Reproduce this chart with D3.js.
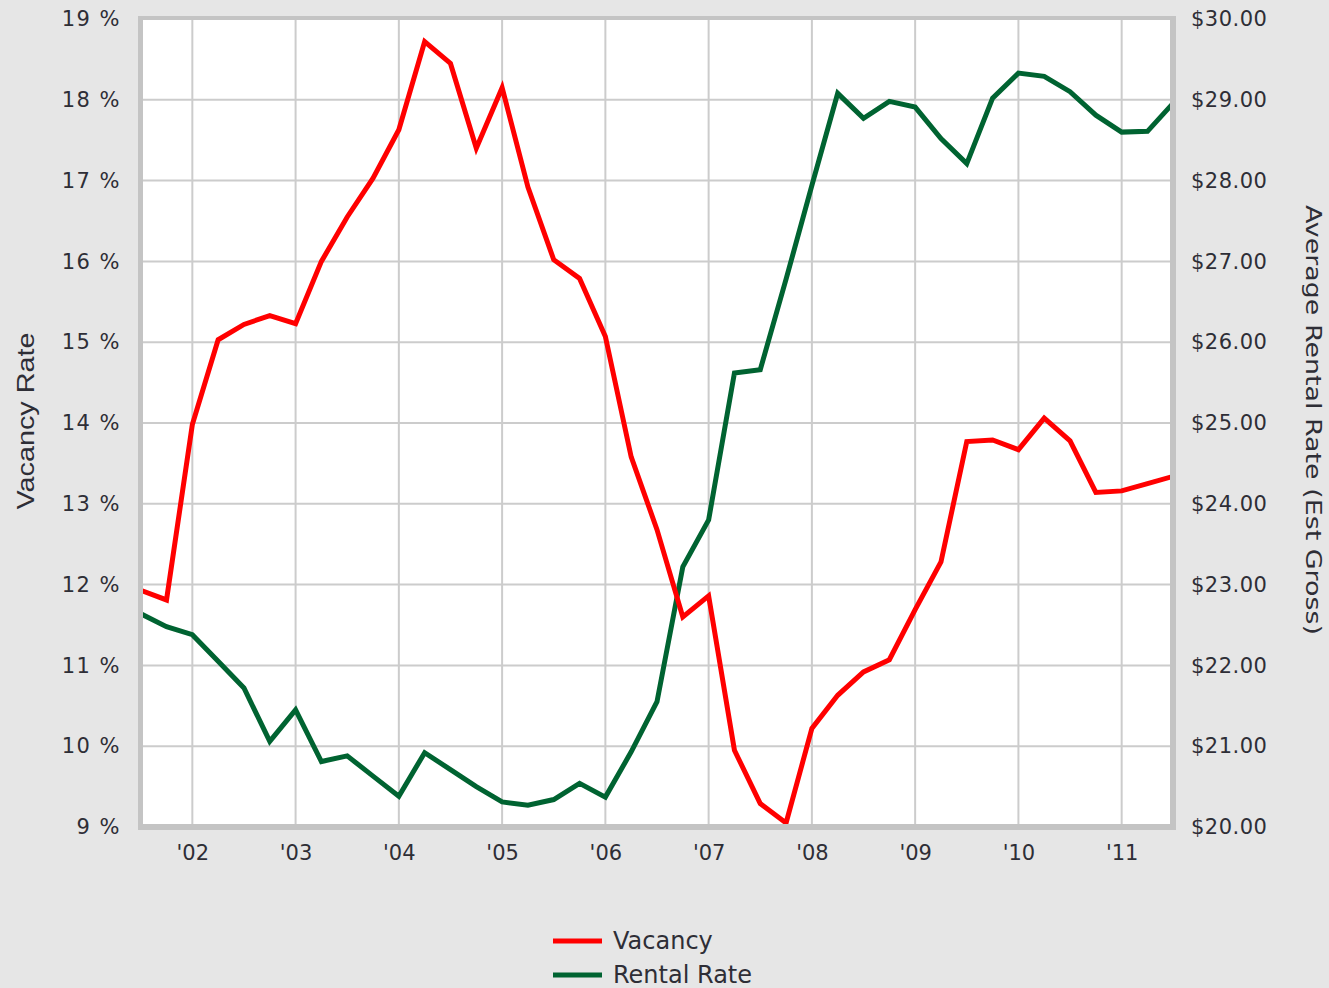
<!DOCTYPE html>
<html><head><meta charset="utf-8">
<script src="https://cdn.jsdelivr.net/npm/d3@7"></script>
<style>html,body{margin:0;padding:0;background:#e6e6e6;}svg{display:block;}</style>
</head><body>
<svg id="chart" width="1329" height="988"></svg>
<script>
const quarters = [2001.5,2001.75,2002,2002.25,2002.5,2002.75,2003,2003.25,2003.5,2003.75,2004,2004.25,2004.5,2004.75,2005,2005.25,2005.5,2005.75,2006,2006.25,2006.5,2006.75,2007,2007.25,2007.5,2007.75,2008,2008.25,2008.5,2008.75,2009,2009.25,2009.5,2009.75,2010,2010.25,2010.5,2010.75,2011,2011.25,2011.5];
const vacancy = [11.93,11.81,13.98,15.03,15.22,15.33,15.23,16.0,16.55,17.03,17.63,18.72,18.45,17.40,18.15,16.92,16.02,15.79,15.07,13.58,12.68,11.60,11.86,9.95,9.29,9.05,10.22,10.63,10.92,11.07,11.69,12.28,13.77,13.79,13.67,14.06,13.78,13.14,13.16,13.25,13.34];
const rental = [22.64,22.48,22.38,22.05,21.72,21.06,21.45,20.81,20.88,20.63,20.38,20.92,20.71,20.50,20.31,20.27,20.34,20.54,20.37,20.93,21.55,23.22,23.80,25.62,25.66,26.78,27.94,29.08,28.77,28.98,28.91,28.52,28.21,29.02,29.33,29.29,29.10,28.81,28.60,28.61,28.96];
const yearTicks = [2002,2003,2004,2005,2006,2007,2008,2009,2010,2011];
const yearLabels = ["'02","'03","'04","'05","'06","'07","'08","'09","'10","'11"];
const vacancyTicks = [9,10,11,12,13,14,15,16,17,18,19];
const rentalTicks = [20,21,22,23,24,25,26,27,28,29,30];
const seriesNames = ["Vacancy","Rental Rate"];
const seriesColors = ["#ff0000","#006331"];

const svg = d3.select("#chart");
const x = d3.scaleLinear().domain([2001.5, 2011.5]).range([140.7, 1173.3]);
const yL = d3.scaleLinear().domain([9, 19]).range([827, 19]);
const yR = d3.scaleLinear().domain([20, 30]).range([827, 19]);

const font = "DejaVu Sans, Verdana, sans-serif";
const txtColor = "#2e2e36";

// frame
svg.append("rect").attr("x",138).attr("y",16).attr("width",1038).attr("height",814).attr("fill","#c4c4c4");
svg.append("rect").attr("x",143).attr("y",20).attr("width",1027).attr("height",804).attr("fill","#ffffff");

svg.append("clipPath").attr("id","clip").append("rect").attr("x",143).attr("y",20).attr("width",1027).attr("height",804);
const plot = svg.append("g").attr("clip-path","url(#clip)");

// grid
plot.selectAll("line.hg").data(vacancyTicks).join("line")
  .attr("x1",143).attr("x2",1170).attr("y1",d=>yL(d)).attr("y2",d=>yL(d))
  .attr("stroke","#cccccc").attr("stroke-width",2);
plot.selectAll("line.vg").data(yearTicks).join("line")
  .attr("y1",20).attr("y2",824).attr("x1",d=>x(d)).attr("x2",d=>x(d))
  .attr("stroke","#cccccc").attr("stroke-width",2);

// lines
const lineV = d3.line().x((d,i)=>x(quarters[i])).y(d=>yL(d));
const lineR = d3.line().x((d,i)=>x(quarters[i])).y(d=>yR(d));
plot.append("path").datum(rental).attr("d",lineR).attr("fill","none")
  .attr("stroke",seriesColors[1]).attr("stroke-width",5).attr("stroke-linejoin","miter");
plot.append("path").datum(vacancy).attr("d",lineV).attr("fill","none")
  .attr("stroke",seriesColors[0]).attr("stroke-width",5).attr("stroke-linejoin","miter");

// left axis
const axL = d3.axisLeft(yL).tickValues(vacancyTicks).tickFormat(d=>d+" %").tickSize(0).tickPadding(0);
const gL = svg.append("g").attr("transform","translate(121,0)").call(axL);
gL.select(".domain").remove();
gL.selectAll("text").attr("font-family",font).attr("font-size",21).attr("fill",txtColor).attr("letter-spacing",1.5);

// right axis
const axR = d3.axisRight(yR).tickValues(rentalTicks).tickFormat(d=>"$"+d3.format(".2f")(d)).tickSize(0).tickPadding(0);
const gR = svg.append("g").attr("transform","translate(1191,0)").call(axR);
gR.select(".domain").remove();
gR.selectAll("text").attr("font-family",font).attr("font-size",21).attr("fill",txtColor).attr("letter-spacing",0.5);

// bottom axis
const axB = d3.axisBottom(x).tickValues(yearTicks).tickFormat((d,i)=>yearLabels[i]).tickSize(0).tickPadding(0);
const gB = svg.append("g").attr("transform","translate(0,845)").call(axB);
gB.select(".domain").remove();
gB.selectAll("text").attr("font-family",font).attr("font-size",21).attr("fill",txtColor);

// axis titles
svg.append("text").attr("transform","translate(34,421) rotate(-90)")
  .attr("text-anchor","middle").attr("font-family","Liberation Sans, Arial, sans-serif")
  .attr("font-size",24).attr("fill",txtColor).attr("textLength",177).attr("lengthAdjust","spacingAndGlyphs")
  .text("Vacancy Rate");
svg.append("text").attr("transform","translate(1306,420) rotate(90)")
  .attr("text-anchor","middle").attr("font-family",font)
  .attr("font-size",22).attr("fill",txtColor).attr("textLength",430).attr("lengthAdjust","spacingAndGlyphs")
  .text("Average Rental Rate (Est Gross)");

// legend
const leg = svg.append("g");
const legY = [941, 975];
seriesNames.forEach((n,i)=>{
  leg.append("line").attr("x1",553).attr("x2",602).attr("y1",legY[i]).attr("y2",legY[i])
    .attr("stroke",seriesColors[i]).attr("stroke-width",5);
  leg.append("text").attr("x",613).attr("y",legY[i]+8).attr("font-family",font)
    .attr("font-size",24).attr("fill",txtColor).text(n);
});
</script>
</body></html>
